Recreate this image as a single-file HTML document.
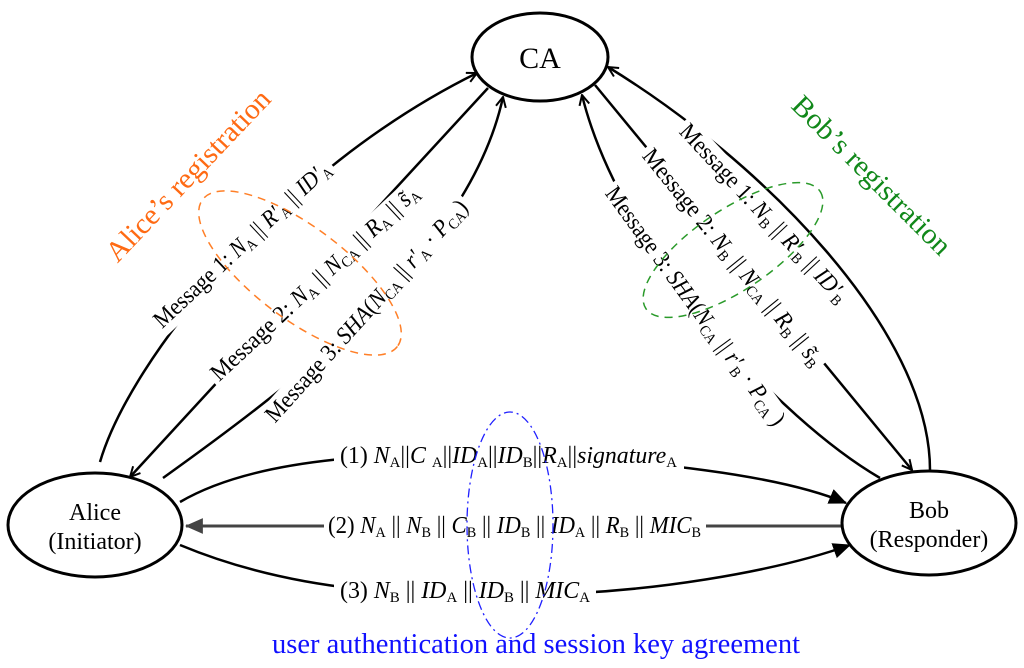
<!DOCTYPE html>
<html><head><meta charset="utf-8"><style>
html,body{margin:0;padding:0;background:#fff;}
svg{display:block;}
text{font-family:"Liberation Serif",serif;}
.m{font-size:24px;fill:#000;}
.s{font-size:15px;}
.i{font-style:italic;}
</style></head><body>
<svg width="1024" height="668" viewBox="0 0 1024 668" xmlns="http://www.w3.org/2000/svg">
<defs>
<marker id="o" viewBox="0 0 12 12" refX="11" refY="6" markerWidth="12" markerHeight="12" markerUnits="userSpaceOnUse" orient="auto">
<path d="M1,1 L11,6 L1,11" fill="none" stroke="#000" stroke-width="2"/></marker>
<marker id="f" viewBox="0 0 16 14" refX="15" refY="7" markerWidth="18" markerHeight="16" markerUnits="userSpaceOnUse" orient="auto">
<path d="M0,0 L16,7 L0,14 Z" fill="#000"/></marker>
<marker id="g" viewBox="0 0 16 14" refX="15" refY="7" markerWidth="18" markerHeight="16" markerUnits="userSpaceOnUse" orient="auto">
<path d="M0,0 L16,7 L0,14 Z" fill="#444"/></marker>
</defs>
<g fill="none" stroke="#000" stroke-width="2.5">
<path d="M100,462 C130,360 280,170 477,73" marker-end="url(#o)"/>
<path d="M488,88 L130,477" marker-end="url(#o)"/>
<path d="M163,478 C300,380 470,250 503,97" marker-end="url(#o)"/>
<path d="M930,470 C930,330 760,160 608,67" marker-end="url(#o)"/>
<path d="M595,85 L912,470" marker-end="url(#o)"/>
<path d="M880,478 C780,420 620,250 582,95" marker-end="url(#o)"/>
<path d="M180,502 C260,455 400,452 510,455 C650,460 780,475 846,503" marker-end="url(#f)"/>
<path d="M180,545 C300,595 420,595 510,595 C650,595 780,570 850,545" marker-end="url(#f)"/>
<path d="M841,526 L186,526" stroke="#444" stroke-width="3" marker-end="url(#g)"/>
<ellipse cx="540" cy="57" rx="68" ry="44" stroke-width="3" fill="#fff"/>
<ellipse cx="95" cy="525" rx="87" ry="52" stroke-width="3" fill="#fff"/>
<ellipse cx="929" cy="523" rx="87" ry="52" stroke-width="3" fill="#fff"/>
</g>
<text x="540" y="68" font-size="30" text-anchor="middle">CA</text>
<text x="95" y="520" font-size="24" text-anchor="middle">Alice</text>
<text x="95" y="549" font-size="24" text-anchor="middle">(Initiator)</text>
<text x="929" y="518" font-size="24" text-anchor="middle">Bob</text>
<text x="929" y="547" font-size="24" text-anchor="middle">(Responder)</text>

<!-- left messages -->
<g transform="translate(247,250) rotate(-43)"><rect x="-120" y="-20" width="240" height="28" fill="#fff"/>
<text class="m" x="-116" y="0" textLength="232" lengthAdjust="spacingAndGlyphs">Message 1: <tspan class="i">N</tspan><tspan class="s" dy="4">A</tspan><tspan dy="-4"> || </tspan><tspan class="i">R′</tspan><tspan class="s" dy="4">A</tspan><tspan dy="-4"> || </tspan><tspan class="i">ID′</tspan><tspan class="s" dy="4">A</tspan></text></g>
<g transform="translate(320,288) rotate(-43)"><rect x="-142" y="-20" width="284" height="28" fill="#fff"/>
<text class="m" x="-138" y="0" textLength="275" lengthAdjust="spacingAndGlyphs">Message 2: <tspan class="i">N</tspan><tspan class="s" dy="4">A</tspan><tspan dy="-4"> || </tspan><tspan class="i">N</tspan><tspan class="s" dy="4">CA</tspan><tspan dy="-4"> || </tspan><tspan class="i">R</tspan><tspan class="s" dy="4">A</tspan><tspan dy="-4"> || </tspan><tspan class="i">s̃</tspan><tspan class="s" dy="4">A</tspan></text></g>
<g transform="translate(372,316) rotate(-48)"><rect x="-149" y="-20" width="298" height="28" fill="#fff"/>
<text class="m" x="-145" y="0" textLength="290" lengthAdjust="spacingAndGlyphs">Message 3: <tspan class="i">SHA</tspan>(<tspan class="i">N</tspan><tspan class="s" dy="4">CA</tspan><tspan dy="-4"> || </tspan><tspan class="i">r′</tspan><tspan class="s" dy="4">A</tspan><tspan dy="-4"> · </tspan><tspan class="i">P</tspan><tspan class="s" dy="4">CA</tspan><tspan dy="-4">)</tspan></text></g>

<!-- right messages -->
<g transform="translate(758,218) rotate(47)"><rect x="-121" y="-20" width="242" height="28" fill="#fff"/>
<text class="m" x="-117" y="0" textLength="235" lengthAdjust="spacingAndGlyphs">Message 1: <tspan class="i">N</tspan><tspan class="s" dy="4">B</tspan><tspan dy="-4"> || </tspan><tspan class="i">R′</tspan><tspan class="s" dy="4">B</tspan><tspan dy="-4"> || </tspan><tspan class="i">ID′</tspan><tspan class="s" dy="4">B</tspan></text></g>
<g transform="translate(727,262) rotate(51)"><rect x="-140" y="-20" width="280" height="28" fill="#fff"/>
<text class="m" x="-136" y="0" textLength="272" lengthAdjust="spacingAndGlyphs">Message 2: <tspan class="i">N</tspan><tspan class="s" dy="4">B</tspan><tspan dy="-4"> || </tspan><tspan class="i">N</tspan><tspan class="s" dy="4">CA</tspan><tspan dy="-4"> || </tspan><tspan class="i">R</tspan><tspan class="s" dy="4">B</tspan><tspan dy="-4"> || </tspan><tspan class="i">s̃</tspan><tspan class="s" dy="4">B</tspan></text></g>
<g transform="translate(689,310) rotate(54)"><rect x="-148" y="-20" width="296" height="28" fill="#fff"/>
<text class="m" x="-144" y="0" textLength="289" lengthAdjust="spacingAndGlyphs">Message 3: <tspan class="i">SHA</tspan>(<tspan class="i">N</tspan><tspan class="s" dy="4">CA</tspan><tspan dy="-4"> || </tspan><tspan class="i">r′</tspan><tspan class="s" dy="4">B</tspan><tspan dy="-4"> · </tspan><tspan class="i">P</tspan><tspan class="s" dy="4">CA</tspan><tspan dy="-4"> )</tspan></text></g>

<!-- bottom messages -->
<rect x="334" y="440" width="350" height="30" fill="#fff"/>
<text class="m" x="340" y="463" textLength="337" lengthAdjust="spacingAndGlyphs">(1)  <tspan class="i">N</tspan><tspan class="s" dy="4">A</tspan><tspan dy="-4">||</tspan><tspan class="i">C </tspan><tspan class="s" dy="4">A</tspan><tspan dy="-4">||</tspan><tspan class="i">ID</tspan><tspan class="s" dy="4">A</tspan><tspan dy="-4">||</tspan><tspan class="i">ID</tspan><tspan class="s" dy="4">B</tspan><tspan dy="-4">||</tspan><tspan class="i">R</tspan><tspan class="s" dy="4">A</tspan><tspan dy="-4">||</tspan><tspan class="i">signature</tspan><tspan class="s" dy="4">A</tspan></text>
<rect x="324" y="510" width="382" height="30" fill="#fff"/>
<text class="m" x="328" y="533" textLength="373" lengthAdjust="spacingAndGlyphs">(2)  <tspan class="i">N</tspan><tspan class="s" dy="4">A</tspan><tspan dy="-4"> || </tspan><tspan class="i">N</tspan><tspan class="s" dy="4">B</tspan><tspan dy="-4"> || </tspan><tspan class="i">C</tspan><tspan class="s" dy="4">B</tspan><tspan dy="-4"> || </tspan><tspan class="i">ID</tspan><tspan class="s" dy="4">B</tspan><tspan dy="-4"> || </tspan><tspan class="i">ID</tspan><tspan class="s" dy="4">A</tspan><tspan dy="-4"> || </tspan><tspan class="i">R</tspan><tspan class="s" dy="4">B</tspan><tspan dy="-4"> || </tspan><tspan class="i">MIC</tspan><tspan class="s" dy="4">B</tspan></text>
<rect x="334" y="576" width="262" height="30" fill="#fff"/>
<text class="m" x="340" y="598" textLength="250" lengthAdjust="spacingAndGlyphs">(3)  <tspan class="i">N</tspan><tspan class="s" dy="4">B</tspan><tspan dy="-4"> || </tspan><tspan class="i">ID</tspan><tspan class="s" dy="4">A</tspan><tspan dy="-4"> || </tspan><tspan class="i">ID</tspan><tspan class="s" dy="4">B</tspan><tspan dy="-4"> || </tspan><tspan class="i">MIC</tspan><tspan class="s" dy="4">A</tspan></text>

<!-- dashed loops -->
<ellipse cx="300" cy="273" rx="122" ry="46" transform="rotate(37 300 273)" fill="none" stroke="#ff7f27" stroke-width="1.5" stroke-dasharray="8,6"/>
<ellipse cx="733" cy="250" rx="105" ry="40" transform="rotate(-34 733 250)" fill="none" stroke="#2a9a2a" stroke-width="1.5" stroke-dasharray="8,6"/>
<ellipse cx="510" cy="525" rx="43" ry="113" fill="none" stroke="#2020ff" stroke-width="1.3" stroke-dasharray="9,4,2,4"/>

<text transform="translate(195,182) rotate(-46.5)" text-anchor="middle" font-size="29" fill="#ff6a13" textLength="225" lengthAdjust="spacingAndGlyphs">Alice’s registration</text>
<text transform="translate(865,182) rotate(45)" text-anchor="middle" font-size="29" fill="#11881a" textLength="212" lengthAdjust="spacingAndGlyphs">Bob’s registration</text>
<text x="272" y="653" font-size="28" fill="#1010ff" textLength="528" lengthAdjust="spacingAndGlyphs">user authentication and session key agreement</text>
</svg>
</body></html>
